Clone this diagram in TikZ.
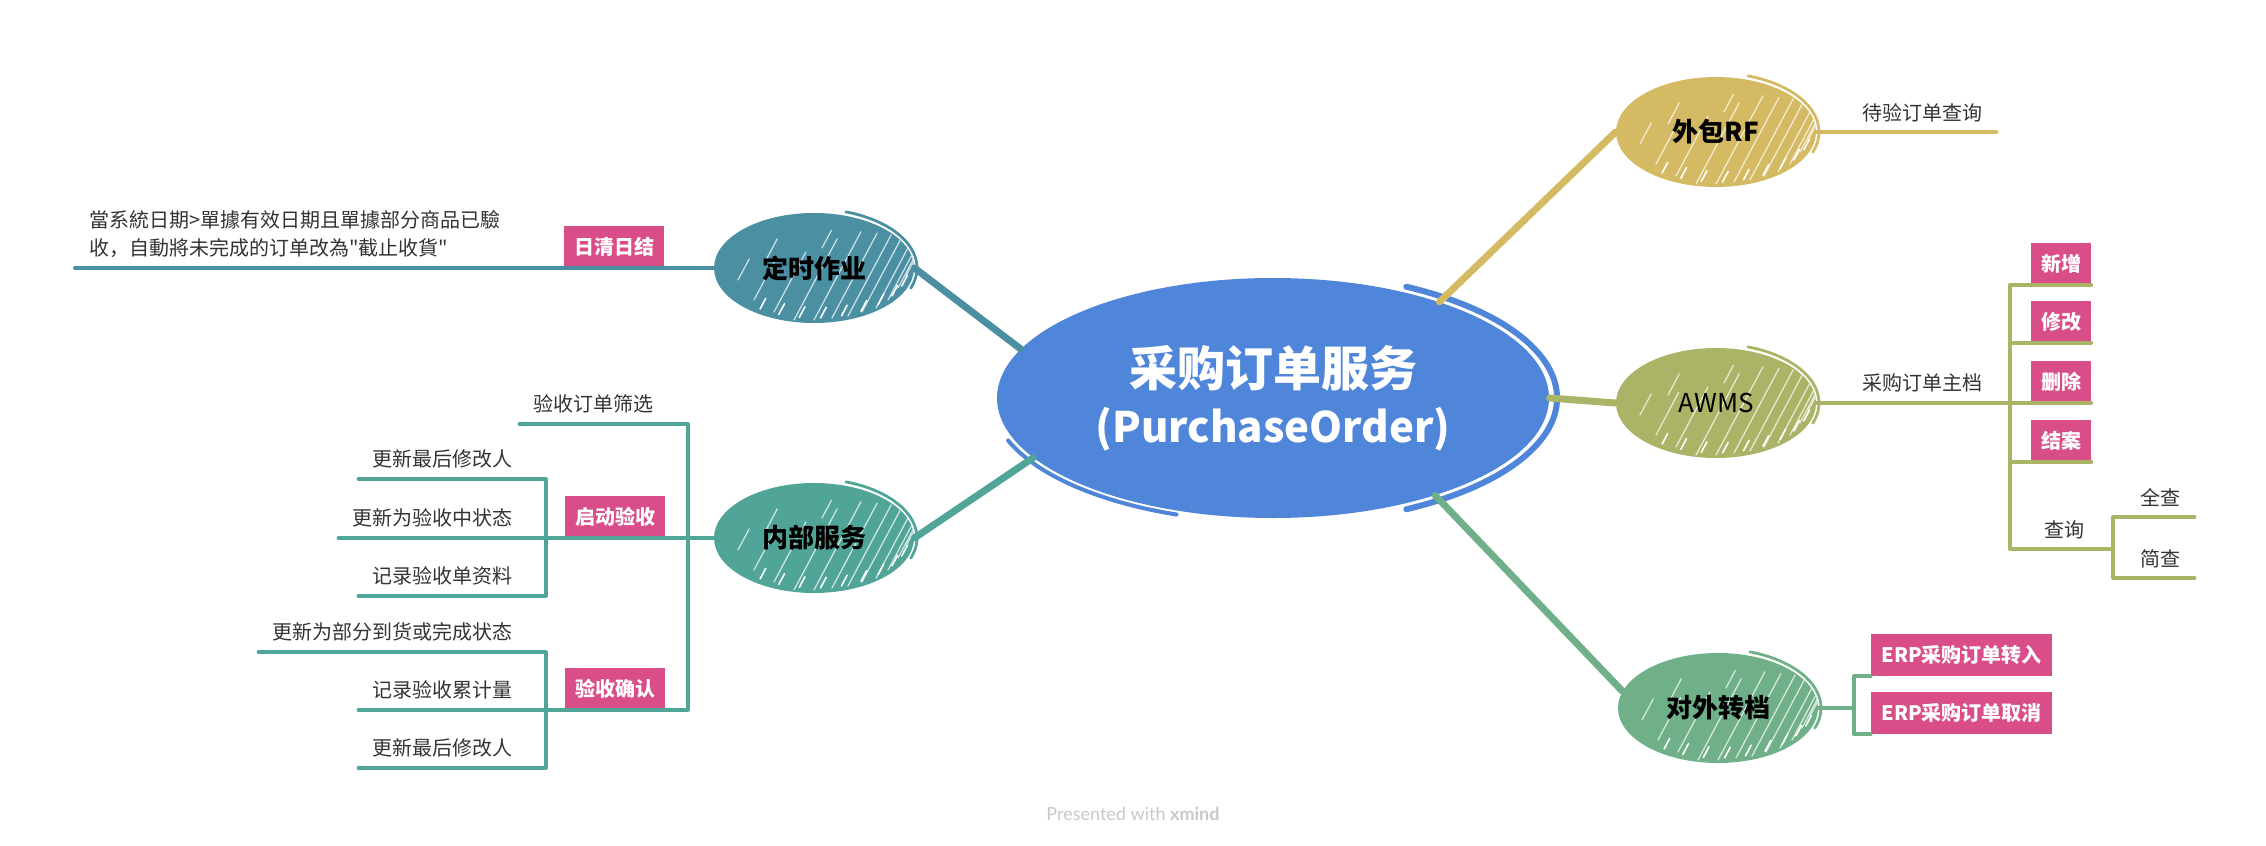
\documentclass[tikz,border=0pt]{standalone}
\usepackage{fontspec}
\setmainfont{Noto Sans CJK SC}
\newfontfamily\plaincjk{Noto Sans CJK SC}
\newfontfamily\creditfont{Lato}
\usetikzlibrary{calc, shapes.geometric}

\definecolor{hubc}{HTML}{4F86DA}
\definecolor{jobc}{HTML}{4B8FA3}
\definecolor{innc}{HTML}{50A598}
\definecolor{rfc}{HTML}{D4BB63}
\definecolor{awmsc}{HTML}{ABB466}
\definecolor{expc}{HTML}{6FB088}
\definecolor{pinkc}{HTML}{D94D88}
\definecolor{txtc}{HTML}{333333}
\definecolor{footc}{HTML}{C8C8C8}

\begin{document}
\begin{tikzpicture}[x=0.5pt, y=-0.5pt, line cap=round, line join=round,
  hatch/.style={path picture={
    \coordinate (hc) at (path picture bounding box.center);
    \foreach \hx/\hy/\hl in {-38/-6/12, -30/-16/24, -20/-22/34, -10/-26/46, 0/-26/50,
        9/-25/48, 17/-24/46, 24/-22/42, 31/-20/36, 37/-16/30, 42/-10/22, 46/-4/12, -24/4/12, 4/10/10}
      \draw[white, line width=0.6pt, opacity=0.75] ($(hc)+(\hx pt,\hy pt)$) -- ++(62:\hl pt);
    \foreach \a in {-125,-112,...,-20}
      \draw[white, line width=0.8pt] ($(hc)+(\a:47pt and 25pt)$) -- ++(62:6pt);
  }},
  topic/.style={ellipse, fill=#1, minimum width=100pt, minimum height=55pt, inner sep=0pt,
    font=\fontsize{13}{15}\selectfont\bfseries, text=black, hatch},
  hubsty/.style={ellipse, fill=hubc, minimum width=276pt, minimum height=120pt, inner sep=0pt,
    text=white, align=center, font=\bfseries},
  box/.style={fill=pinkc, text=white, font=\fontsize{10}{12}\selectfont\bfseries,
    minimum height=21pt, inner xsep=5pt, inner ysep=0pt, anchor=south},
  leaf/.style={text=txtc, font=\fontsize{10}{12}\selectfont, inner xsep=7pt, inner ysep=5pt},
  main/.style={line width=3.5pt, #1},
  sub/.style={line width=1.6pt, #1}]
  \useasboundingbox (0,0) rectangle (2266,846);

  % 中心主题
  \node[hubsty] (hub) at (1273, 398)
    {\raisebox{-3pt}{\fontsize{24}{26}\selectfont 采购订单服务}\\[7pt]{\fontsize{21}{26}\selectfont (PurchaseOrder)}};
  \draw[hubc, line width=3pt] ($(hub.center)+(62:142pt and 63pt)$)
    arc[start angle=62, end angle=-62, x radius=142pt, y radius=63pt];
  \draw[hubc, line width=2pt] ($(hub.center)+(200:141pt and 62pt)$)
    arc[start angle=200, end angle=250, x radius=141pt, y radius=62pt];

  % 分支主题
  \node[topic=jobc] (job) at (814, 268) {定时作业};
  \node[topic=innc] (inn) at (814, 538) {内部服务};
  \node[topic=rfc] (rf) at (1716, 132) {外包RF};
  \node[topic=awmsc, font=\fontsize{13}{15}\selectfont] (awms) at (1716, 403) {AWMS};
  \node[topic=expc] (exp) at (1718, 708) {对外转档};
  \foreach \t/\c in {job/jobc, inn/innc, rf/rfc, awms/awmsc, exp/expc}
    \draw[\c, line width=1.4pt] ($(\t.center)+(72:51.5pt and 29.5pt)$)
      arc[start angle=72, end angle=-20, x radius=51.5pt, y radius=29.5pt];

  \draw[main=jobc] (job.east) -- (hub.169);
  \draw[main=innc] (inn.east) -- (hub.194);
  \draw[main=rfc] (hub.30) -- (rf.west);
  \draw[main=awmsc] (hub.east) -- (awms.west);
  \draw[main=expc] (hub.-31) -- (exp.170);

  % 定时作业
  \node[box] (clean) at (614, 268) {日清日结};
  \node[leaf, anchor=south west, align=left, font=\plaincjk\fontsize{10}{14}\selectfont] (rule) at (75, 268)
    {當系統日期>單據有效日期且單據部分商品已驗\\收，自動將未完成的订单改為"截止收貨"};
  \draw[sub=jobc, line width=2pt] (job.west) -- (clean.south east) -- (clean.south west) -- (rule.south west);

  % 内部服务
  \coordinate (b1) at (688, 538);
  \coordinate (b2) at (546, 538);
  \coordinate (b3) at (546, 710);
  \node[leaf, anchor=south east] (pick) at (668, 424) {验收订单筛选};
  \node[box] (start) at (615, 538) {启动验收};
  \node[box] (confirm) at (615, 710) {验收确认};
  \draw[sub=innc] (inn.west) -- (b1);
  \draw[sub=innc] (pick.south west) -- (pick.south east) -- (b1 |- pick.south)
    -- (b1 |- confirm.south) -- (confirm.south east) -- (confirm.south west) -- (b3);
  \draw[sub=innc] (b1) -- (start.south east) -- (start.south west) -- (b2);
  \node[leaf, anchor=south east] (upd1) at (527, 479) {更新最后修改人};
  \node[leaf, anchor=south east] (upd2) at (527, 538) {更新为验收中状态};
  \node[leaf, anchor=south east] (rec1) at (527, 596) {记录验收单资料};
  \node[leaf, anchor=south east] (upd3) at (527, 652) {更新为部分到货或完成状态};
  \node[leaf, anchor=south east] (cum) at (527, 710) {记录验收累计量};
  \node[leaf, anchor=south east] (upd4) at (527, 768) {更新最后修改人};
  \draw[sub=innc] (b2 |- upd1.south) -- (b2 |- rec1.south);
  \draw[sub=innc] (b3 |- upd3.south) -- (b3 |- upd4.south);
  \foreach \n in {upd1, upd2, rec1}
    \draw[sub=innc] (b2 |- \n.south) -- (\n.south east) -- (\n.south west);
  \foreach \n in {upd3, cum, upd4}
    \draw[sub=innc] (b3 |- \n.south) -- (\n.south east) -- (\n.south west);

  % 外包RF
  \node[leaf, anchor=south west] (wait) at (1848, 132) {待验订单查询};
  \draw[sub=rfc] (rf.east) -- (wait.south west) -- (wait.south east);

  % AWMS
  \coordinate (b4) at (2010, 403);
  \coordinate (b5) at (2113, 549);
  \node[leaf, anchor=south west] (master) at (1848, 403) {采购订单主档};
  \node[box] (add) at (2061, 285) {新增};
  \node[box] (edit) at (2061, 343) {修改};
  \node[box] (del) at (2061, 403) {删除};
  \node[box] (close) at (2061, 462) {结案};
  \node[leaf, anchor=south west] (query) at (2030, 549) {查询};
  \node[leaf, anchor=south west] (all) at (2126, 517) {全查};
  \node[leaf, anchor=south west] (brief) at (2126, 578) {简查};
  \draw[sub=awmsc] (awms.east) -- (master.south west) -- (master.south east) -- (b4);
  \draw[sub=awmsc] (b4 |- add.south) -- (b4 |- query.south);
  \foreach \n in {add, edit, del, close, query}
    \draw[sub=awmsc] (b4 |- \n.south) -- (\n.south west) -- (\n.south east);
  \draw[sub=awmsc] (query.south east) -- (b5);
  \draw[sub=awmsc] (b5 |- all.south) -- (b5 |- brief.south);
  \foreach \n in {all, brief}
    \draw[sub=awmsc] (b5 |- \n.south) -- (\n.south west) -- (\n.south east);

  % 对外转档
  \coordinate (b6) at (1854, 708);
  \node[box, anchor=south west] (erpin) at (1871, 676) {ERP采购订单转入};
  \node[box, anchor=south west] (erpout) at (1871, 734) {ERP采购订单取消};
  \draw[sub=expc] (exp.east) -- (b6);
  \draw[sub=expc] (b6 |- erpin.south) -- (b6 |- erpout.south);
  \foreach \n in {erpin, erpout}
    \draw[sub=expc] (b6 |- \n.south) -- (\n.south west);

  \node[text=footc, font=\creditfont\fontsize{9}{11}\selectfont] (credit) at (1133, 814)
    {Presented with \textbf{xmind}};
\end{tikzpicture}
\end{document}
